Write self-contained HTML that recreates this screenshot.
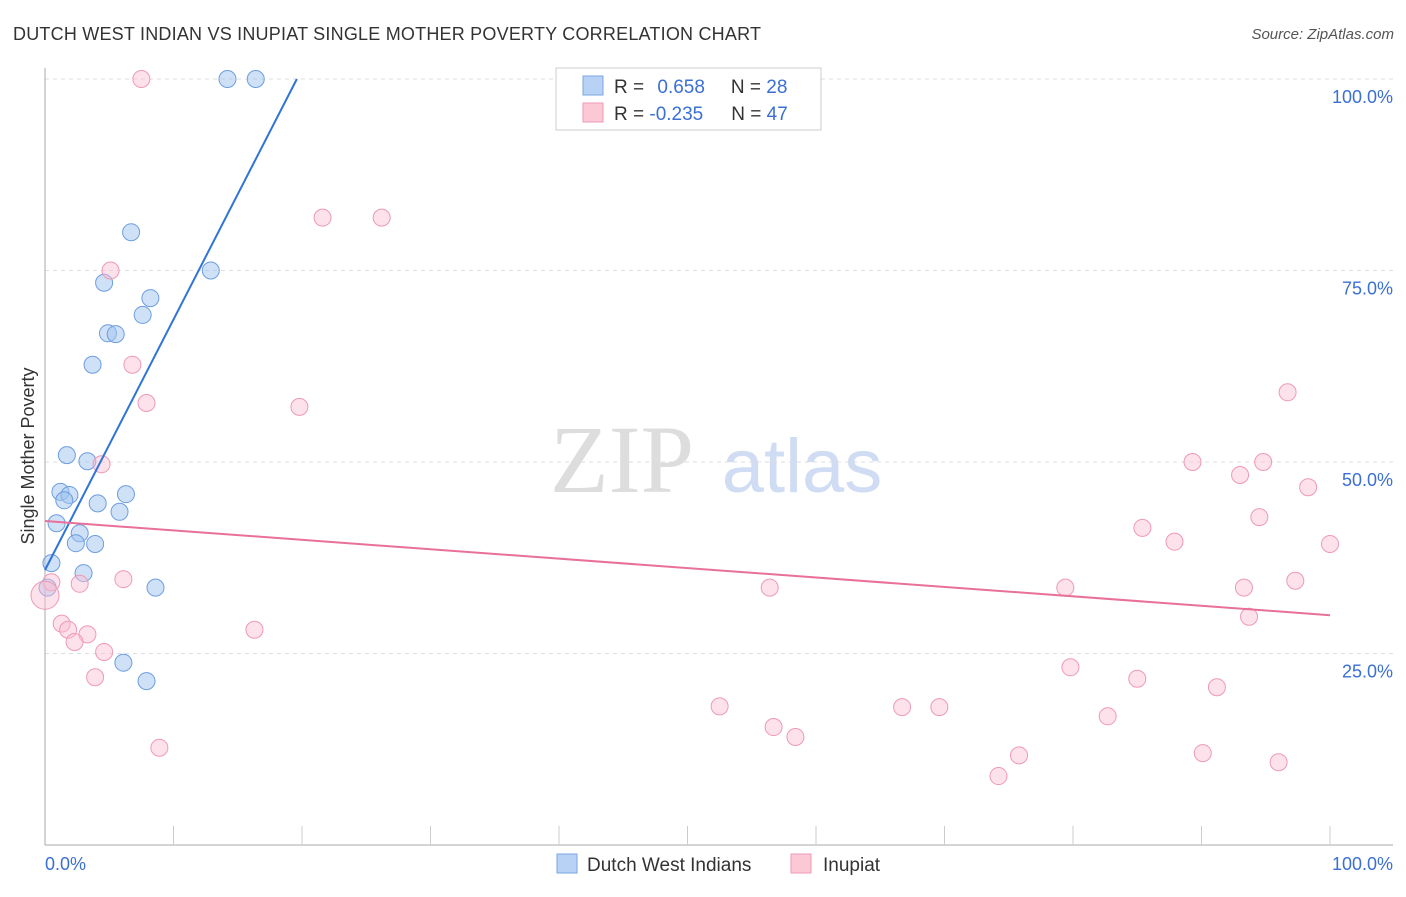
<!DOCTYPE html>
<html><head><meta charset="utf-8"><style>
body{margin:0;background:#fff;font-family:"Liberation Sans",sans-serif}
</style></head><body>
<svg id="c" width="1406" height="892" xmlns="http://www.w3.org/2000/svg">
<text x="13" y="40" font-size="18" fill="#333" textLength="748">DUTCH WEST INDIAN VS INUPIAT SINGLE MOTHER POVERTY CORRELATION CHART</text>
<text x="1394" y="39" font-size="15" fill="#555" font-style="italic" text-anchor="end">Source: ZipAtlas.com</text>
<text x="622" y="492" font-size="96" fill="#ddd" font-family="Liberation Serif" text-anchor="middle">ZIP</text>
<text x="802" y="492" font-size="76" fill="#cfdcf3" text-anchor="middle">atlas</text>
<text transform="translate(34,456) rotate(-90)" font-size="18" fill="#333" text-anchor="middle">Single Mother Poverty</text>
<g id="grid"></g><g id="pts"></g><g id="lines"></g>
<g>
<rect x="556" y="68" width="265" height="62" fill="#fff" stroke="#ccc"/>
<rect x="583" y="76" width="20" height="19" fill="#b8d2f5" stroke="#7aa6e3"/>
<rect x="583" y="103" width="20" height="19" fill="#fbc8d6" stroke="#ef9ab4"/>
<text x="614" y="93" font-size="19" fill="#333">R = <tspan fill="#3b6fd4" dx="8">0.658</tspan><tspan dx="26" fill="#333">N = </tspan><tspan fill="#3b6fd4">28</tspan></text>
<text x="614" y="120" font-size="19" fill="#333">R = <tspan fill="#3b6fd4">-0.235</tspan><tspan dx="28" fill="#333">N = </tspan><tspan fill="#3b6fd4">47</tspan></text>
</g>
<g>
<rect x="557" y="854" width="20" height="19" fill="#b8d2f5" stroke="#7aa6e3"/>
<text x="587" y="871" font-size="19" fill="#333">Dutch West Indians</text>
<rect x="791" y="854" width="20" height="19" fill="#fbc8d6" stroke="#ef9ab4"/>
<text x="823" y="871" font-size="19" fill="#333">Inupiat</text>
</g>
</svg>
<script>
const yTicks=[100,75,50,25];
const yTickLabels=["100.0%","75.0%","50.0%","25.0%"];
const xTickLabels=["0.0%","100.0%"];
const blueX=[14.2,16.4,6.7,12.9,4.6,8.2,7.6,4.9,5.5,3.7,1.7,3.3,1.2,1.9,1.5,6.3,4.1,5.8,0.9,2.7,2.4,3.9,0.5,3.0,0.2,8.6,6.1,7.9];
const blueY=[100,100,80.0,75.0,73.4,71.4,69.2,66.8,66.7,62.7,50.9,50.1,46.1,45.7,45.0,45.8,44.6,43.5,42.0,40.7,39.4,39.3,36.8,35.5,33.6,33.6,23.8,21.4];
const pinkX=[7.5,21.6,26.2,5.1,6.8,7.9,19.8,4.4,89.3,94.8,96.7,93.0,98.3,94.5,85.4,87.9,100,0.5,2.7,6.1,56.4,79.4,93.3,97.3,93.7,1.3,1.8,3.3,2.3,16.3,4.6,3.9,79.8,85.0,91.2,52.5,66.7,69.6,82.7,56.7,58.4,8.9,75.8,90.1,74.2,96.0,0];
const pinkY=[100,81.9,81.9,75.0,62.7,57.7,57.2,49.7,50.0,50.0,59.1,48.3,46.7,42.8,41.4,39.6,39.3,34.3,34.1,34.7,33.6,33.6,33.6,34.5,29.8,28.9,28.1,27.5,26.5,28.1,25.2,21.9,23.2,21.7,20.6,18.1,18.0,18.0,16.8,15.4,14.1,12.7,11.7,12.0,9.0,10.8,32.6];
const blueLineX=[0,19.6], blueLineY=[35.9,100];
const pinkLineX=[0,100], pinkLineY=[42.3,30.0];
const NS="http://www.w3.org/2000/svg";
const sx=v=>45+v*12.85, sy=v=>845-v*7.66;
function mk(t,a,p){const e=document.createElementNS(NS,t);for(const k in a)e.setAttribute(k,a[k]);p.appendChild(e);return e;}
const g=document.getElementById('grid');
yTicks.forEach((t,i)=>{
 const l=mk('line',{x1:45,x2:1393,y1:sy(t),y2:sy(t),stroke:'#ddd','stroke-dasharray':'4,4'},g);
 
 
 const tx=mk('text',{x:1393,y:sy(t)+24,'font-size':18,fill:'#3b6fd4','text-anchor':'end'},g);
 tx.textContent=yTickLabels[i];
 
 
});
mk('line',{x1:45,x2:45,y1:68,y2:845,stroke:'#aaa'},g);
mk('line',{x1:45,x2:1393,y1:845,y2:845,stroke:'#aaa'},g);
for(let i=1;i<=10;i++){mk('line',{x1:sx(i*10),x2:sx(i*10),y1:826,y2:845,stroke:'#ccc'},g);}
[[0,'start',45],[100,'end',1393]].forEach((d,i)=>{
 const tx=mk('text',{x:d[2],y:870,'font-size':18,fill:'#3b6fd4','text-anchor':d[1]},g);
 tx.textContent=xTickLabels[i];
 
 
});
const p=document.getElementById('pts');
blueX.forEach((x,i)=>{
 const c=mk('circle',{cx:sx(x),cy:sy(blueY[i]),r:8.5,fill:'rgba(160,195,240,0.5)',stroke:'#6d9de0','stroke-width':1},p);
 
 
});
pinkX.forEach((x,i)=>{
 const big=(i===pinkX.length-1);
 const c=mk('circle',{cx:sx(x),cy:sy(pinkY[i]),r:big?14:8.5,fill:'rgba(250,190,210,0.45)',stroke:'#ee9ab5','stroke-width':1},p);
 
 
});
const L=document.getElementById('lines');
const b=mk('line',{x1:sx(blueLineX[0]),y1:sy(blueLineY[0]),x2:sx(blueLineX[1]),y2:sy(blueLineY[1]),stroke:'#2f74d6','stroke-width':2},L);


const q=mk('line',{x1:sx(pinkLineX[0]),y1:sy(pinkLineY[0]),x2:sx(pinkLineX[1]),y2:sy(pinkLineY[1]),stroke:'#e8709a','stroke-width':2},L);


</script>
</body></html>
